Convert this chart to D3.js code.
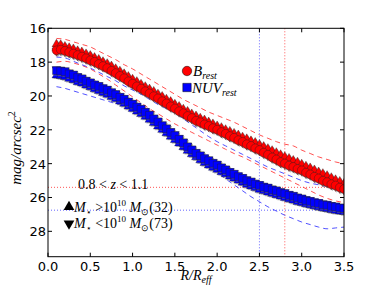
<!DOCTYPE html>
<html>
<head>
<meta charset="utf-8">
<script src="https://cdn.jsdelivr.net/npm/d3@7"></script>
<style>
body { margin: 0; background: #fff; }
text { fill: #000; }
</style>
</head>
<body>
<div id="chart"></div>
<script>
// radius grid, R/R_eff
const radius = [
  0.10, 0.15, 0.20, 0.25, 0.30, 0.35, 0.40, 0.45, 0.50, 0.55,
  0.60, 0.65, 0.70, 0.75, 0.80, 0.85, 0.90, 0.95, 1.00, 1.05,
  1.10, 1.15, 1.20, 1.25, 1.30, 1.35, 1.40, 1.45, 1.50, 1.55,
  1.60, 1.65, 1.70, 1.75, 1.80, 1.85, 1.90, 1.95, 2.00, 2.05,
  2.10, 2.15, 2.20, 2.25, 2.30, 2.35, 2.40, 2.45, 2.50, 2.55,
  2.60, 2.65, 2.70, 2.75, 2.80, 2.85, 2.90, 2.95, 3.00, 3.05,
  3.10, 3.15, 3.20, 3.25, 3.30, 3.35, 3.40, 3.45, 3.50
];
// all galaxies
const bRest = [
  17.30, 17.26, 17.33, 17.41, 17.49, 17.58, 17.67, 17.77, 17.89, 17.98,
  18.11, 18.23, 18.35, 18.51, 18.65, 18.81, 18.95, 19.13, 19.27, 19.43,
  19.56, 19.72, 19.85, 20.01, 20.14, 20.31, 20.44, 20.61, 20.74, 20.90,
  21.02, 21.18, 21.30, 21.46, 21.55, 21.68, 21.77, 21.90, 21.99, 22.13,
  22.23, 22.37, 22.47, 22.61, 22.71, 22.85, 22.95, 23.09, 23.19, 23.35,
  23.47, 23.63, 23.75, 23.90, 23.99, 24.11, 24.19, 24.31, 24.39, 24.53,
  24.63, 24.77, 24.87, 25.01, 25.09, 25.21, 25.29, 25.41, 25.50
];
const nuvRest = [
  18.50, 18.53, 18.57, 18.69, 18.77, 18.91, 18.99, 19.13, 19.23, 19.35,
  19.44, 19.57, 19.66, 19.81, 19.92, 20.08, 20.20, 20.37, 20.49, 20.66,
  20.79, 20.97, 21.14, 21.36, 21.54, 21.76, 21.94, 22.16, 22.34, 22.56,
  22.77, 23.01, 23.19, 23.39, 23.54, 23.71, 23.83, 23.98, 24.09, 24.25,
  24.37, 24.52, 24.63, 24.77, 24.87, 25.01, 25.09, 25.21, 25.29, 25.39,
  25.45, 25.55, 25.61, 25.71, 25.77, 25.87, 25.93, 26.03, 26.09, 26.18,
  26.23, 26.31, 26.35, 26.43, 26.46, 26.53, 26.56, 26.62, 26.65
];
// M* > 1e10 (up triangles)
const bHigh = [
  16.95, 16.98, 17.08, 17.16, 17.23, 17.34, 17.41, 17.52, 17.62, 17.74,
  17.85, 17.98, 18.10, 18.24, 18.40, 18.54, 18.70, 18.86, 19.02, 19.16,
  19.32, 19.46, 19.60, 19.74, 19.90, 20.04, 20.20, 20.34, 20.50, 20.63,
  20.79, 20.92, 21.07, 21.19, 21.32, 21.43, 21.55, 21.66, 21.78, 21.88,
  22.00, 22.10, 22.22, 22.32, 22.44, 22.54, 22.66, 22.76, 22.88, 23.00,
  23.12, 23.24, 23.36, 23.48, 23.60, 23.70, 23.82, 23.92, 24.04, 24.16,
  24.26, 24.38, 24.50, 24.60, 24.72, 24.84, 24.96, 25.06, 25.18
];
const nuvHigh = [
  18.78, 18.82, 18.88, 18.98, 19.06, 19.18, 19.26, 19.38, 19.48, 19.60,
  19.70, 19.82, 19.92, 20.06, 20.18, 20.32, 20.46, 20.62, 20.76, 20.92,
  21.06, 21.22, 21.40, 21.60, 21.80, 22.00, 22.20, 22.40, 22.60, 22.80,
  23.02, 23.24, 23.44, 23.62, 23.80, 23.96, 24.10, 24.24, 24.36, 24.50,
  24.62, 24.76, 24.88, 25.00, 25.12, 25.24, 25.34, 25.44, 25.54, 25.62,
  25.70, 25.78, 25.86, 25.94, 26.02, 26.10, 26.18, 26.26, 26.32, 26.40,
  26.46, 26.52, 26.58, 26.64, 26.68, 26.74, 26.78, 26.82, 26.86
];
// M* < 1e10 (down triangles)
const bLow = [
  17.35, 17.31, 17.38, 17.46, 17.54, 17.63, 17.72, 17.82, 17.94, 18.03,
  18.16, 18.28, 18.40, 18.56, 18.70, 18.86, 19.00, 19.18, 19.32, 19.48,
  19.61, 19.77, 19.90, 20.06, 20.19, 20.36, 20.49, 20.66, 20.79, 20.95,
  21.07, 21.23, 21.35, 21.51, 21.60, 21.73, 21.82, 21.95, 22.04, 22.18,
  22.28, 22.42, 22.52, 22.66, 22.76, 22.90, 23.00, 23.14, 23.24, 23.40,
  23.52, 23.68, 23.80, 23.95, 24.04, 24.16, 24.24, 24.36, 24.44, 24.58,
  24.68, 24.82, 24.92, 25.06, 25.14, 25.26, 25.34, 25.46, 25.55
];
const nuvLow = [
  18.42, 18.45, 18.49, 18.61, 18.69, 18.83, 18.91, 19.05, 19.15, 19.27,
  19.36, 19.49, 19.58, 19.73, 19.84, 20.00, 20.12, 20.29, 20.41, 20.58,
  20.71, 20.89, 21.06, 21.28, 21.46, 21.68, 21.86, 22.08, 22.26, 22.48,
  22.69, 22.93, 23.11, 23.31, 23.46, 23.63, 23.75, 23.90, 24.01, 24.17,
  24.29, 24.44, 24.55, 24.69, 24.79, 24.93, 25.01, 25.13, 25.21, 25.31,
  25.37, 25.47, 25.53, 25.63, 25.69, 25.79, 25.85, 25.95, 26.01, 26.10,
  26.15, 26.23, 26.27, 26.35, 26.38, 26.45, 26.48, 26.54, 26.57
];

// dispersion envelopes (dashed)
const envRadius = [
  0.1, 0.2, 0.3, 0.4, 0.5, 0.6, 0.7, 0.8, 0.9, 1.0,
  1.1, 1.2, 1.3, 1.4, 1.5, 1.6, 1.7, 1.8, 1.9, 2.0,
  2.1, 2.2, 2.3, 2.4, 2.5, 2.6, 2.7, 2.8, 2.9, 3.0,
  3.1, 3.2, 3.3, 3.4, 3.5
];
const bUpper = [
  16.60, 16.65, 16.80, 16.95, 17.10, 17.35, 17.60, 17.85, 18.15, 18.40,
  18.70, 19.00, 19.30, 19.60, 19.90, 20.20, 20.45, 20.70, 20.95, 21.15,
  21.35, 21.55, 21.80, 22.05, 22.30, 22.50, 22.70, 22.85, 22.95, 23.20,
  23.40, 23.60, 23.75, 23.90, 24.00
];
const bLower = [
  18.00, 17.95, 18.05, 18.20, 18.40, 18.70, 19.00, 19.35, 19.70, 20.05,
  20.40, 20.75, 21.05, 21.35, 21.65, 21.90, 22.15, 22.40, 22.65, 22.90,
  23.15, 23.40, 23.60, 23.85, 24.10, 24.35, 24.60, 24.85, 25.10, 25.35,
  25.60, 25.85, 26.05, 26.20, 26.30
];
const nuvUpper = [
  17.70, 17.75, 17.95, 18.15, 18.35, 18.60, 18.85, 19.10, 19.40, 19.65,
  19.90, 20.20, 20.50, 20.75, 21.00, 21.35, 21.70, 22.05, 22.40, 22.70,
  22.95, 23.20, 23.45, 23.70, 23.95, 24.20, 24.40, 24.60, 24.80, 25.00,
  25.15, 25.25, 25.35, 25.40, 25.45
];
const nuvLower = [
  19.45, 19.55, 19.70, 19.85, 20.00, 20.15, 20.30, 20.45, 20.60, 20.80,
  21.05, 21.40, 21.80, 22.20, 22.60, 22.95, 23.30, 23.70, 24.10, 24.50,
  24.90, 25.25, 25.60, 25.95, 26.25, 26.55, 26.80, 27.05, 27.25, 27.45,
  27.60, 27.75, 27.85, 27.80, 27.75
];

// reference lines
const vLines = [{ v: 2.5, c: "#6666ff" }, { v: 2.8, c: "#ff5555" }];
const hLines = [{ v: 25.4, c: "#ff5555" }, { v: 26.75, c: "#6666ff" }];

const xTicks = [0.0, 0.5, 1.0, 1.5, 2.0, 2.5, 3.0, 3.5];
const yTicks = [16, 18, 20, 22, 24, 26, 28];

const W = 382, H = 286;
const pLeft = 48, pRight = 344, pTop = 28.3, pBottom = 256.7;

const svg = d3.select("#chart").append("svg")
    .attr("width", W)
    .attr("height", H);

const x = d3.scaleLinear().domain([0, 3.5]).range([pLeft, pRight]);
const y = d3.scaleLinear().domain([16, 29.5]).range([pTop, pBottom]);

svg.append("clipPath").attr("id", "clip")
    .append("rect")
    .attr("x", pLeft).attr("y", pTop)
    .attr("width", pRight - pLeft).attr("height", pBottom - pTop);

const plot = svg.append("g").attr("clip-path", "url(#clip)");

// dotted reference lines
vLines.forEach(l => {
    plot.append("line")
        .attr("x1", x(l.v)).attr("x2", x(l.v))
        .attr("y1", pTop).attr("y2", pBottom)
        .attr("stroke", l.c).attr("stroke-width", 1)
        .attr("stroke-dasharray", "1,2");
});
hLines.forEach(l => {
    plot.append("line")
        .attr("x1", pLeft).attr("x2", pRight)
        .attr("y1", y(l.v)).attr("y2", y(l.v))
        .attr("stroke", l.c).attr("stroke-width", 1)
        .attr("stroke-dasharray", "1,2");
});

// dashed envelopes
const line = d3.line().x(d => x(d[0])).y(d => y(d[1])).curve(d3.curveMonotoneX);
[[bUpper, "#ff3333"], [bLower, "#ff3333"], [nuvUpper, "#3333ff"], [nuvLower, "#3333ff"]]
    .forEach(([vals, col]) => {
        plot.append("path")
            .datum(d3.zip(envRadius, vals))
            .attr("d", line)
            .attr("fill", "none")
            .attr("stroke", col)
            .attr("stroke-opacity", 0.85)
            .attr("stroke-width", 1)
            .attr("stroke-dasharray", "5,4");
    });

function drawSeries(vals, shape, fill, size, rot) {
    const sym = d3.symbol().type(shape).size(size);
    const pts = d3.zip(radius, vals);
    const g = plot.append("g");
    // soft shadow under the markers
    g.selectAll("path.sh")
        .data(pts)
        .enter().append("path")
        .attr("class", "sh")
        .attr("d", sym)
        .attr("transform", d => `translate(${x(d[0]) + 1.2},${y(d[1]) + 1.2}) rotate(${rot})`)
        .attr("fill", "#777")
        .attr("fill-opacity", 0.5);
    g.selectAll("path.mk")
        .data(pts)
        .enter().append("path")
        .attr("class", "mk")
        .attr("d", sym)
        .attr("transform", d => `translate(${x(d[0])},${y(d[1])}) rotate(${rot})`)
        .attr("fill", fill)
        .attr("stroke", "#222")
        .attr("stroke-width", 0.4);
}

drawSeries(bLow, d3.symbolTriangle, "#ff0000", 34, 180);
drawSeries(bHigh, d3.symbolTriangle, "#ff0000", 34, 0);
drawSeries(nuvLow, d3.symbolTriangle, "#0000ff", 34, 180);
drawSeries(nuvHigh, d3.symbolTriangle, "#0000ff", 34, 0);
drawSeries(bRest, d3.symbolCircle, "#ff0000", 60, 0);
drawSeries(nuvRest, d3.symbolSquare, "#0000ff", 60, 0);

// frame and ticks
svg.append("rect")
    .attr("x", pLeft).attr("y", pTop)
    .attr("width", pRight - pLeft).attr("height", pBottom - pTop)
    .attr("fill", "none").attr("stroke", "#000").attr("stroke-width", 1);

const tl = 4;
xTicks.forEach(t => {
    svg.append("line").attr("x1", x(t)).attr("x2", x(t)).attr("y1", pBottom).attr("y2", pBottom - tl).attr("stroke", "#000");
    svg.append("line").attr("x1", x(t)).attr("x2", x(t)).attr("y1", pTop).attr("y2", pTop + tl).attr("stroke", "#000");
    svg.append("text")
        .attr("x", x(t)).attr("y", 271)
        .attr("text-anchor", "middle")
        .attr("font-family", "DejaVu Sans")
        .attr("font-size", 13)
        .text(t.toFixed(1));
});
yTicks.forEach(t => {
    svg.append("line").attr("x1", pLeft).attr("x2", pLeft + tl).attr("y1", y(t)).attr("y2", y(t)).attr("stroke", "#000");
    svg.append("line").attr("x1", pRight).attr("x2", pRight - tl).attr("y1", y(t)).attr("y2", y(t)).attr("stroke", "#000");
    svg.append("text")
        .attr("x", 46).attr("y", y(t) + 5)
        .attr("text-anchor", "end")
        .attr("font-family", "DejaVu Sans")
        .attr("font-size", 13)
        .text(t);
});

const serif = "'Liberation Serif', serif";

// axis labels
const yl = svg.append("text")
    .attr("transform", "translate(21,148) rotate(-90)")
    .attr("text-anchor", "middle")
    .attr("font-family", serif)
    .attr("font-style", "italic")
    .attr("font-size", 15);
yl.append("tspan").text("mag/arcsec");
yl.append("tspan").attr("dy", -6).attr("font-size", 10).attr("font-style", "normal").text("2");

const xl = svg.append("text")
    .attr("x", 196).attr("y", 280)
    .attr("text-anchor", "middle")
    .attr("font-family", serif)
    .attr("font-style", "italic")
    .attr("font-size", 14);
xl.append("tspan").text("R/R");
xl.append("tspan").attr("dy", 2.5).attr("font-size", 10).text("eff");

// legend
svg.append("path")
    .attr("d", d3.symbol().type(d3.symbolCircle).size(70))
    .attr("transform", "translate(187,71)")
    .attr("fill", "#ff0000").attr("stroke", "#000").attr("stroke-width", 0.5);
svg.append("path")
    .attr("d", d3.symbol().type(d3.symbolSquare).size(70))
    .attr("transform", "translate(187,87.5)")
    .attr("fill", "#0000ff").attr("stroke", "#000").attr("stroke-width", 0.5);
const lb = svg.append("text").attr("x", 193).attr("y", 76)
    .attr("font-family", serif).attr("font-style", "italic").attr("font-size", 15);
lb.append("tspan").text("B");
lb.append("tspan").attr("dy", 3).attr("font-size", 10).text("rest");
const ln = svg.append("text").attr("x", 192).attr("y", 92.5)
    .attr("font-family", serif).attr("font-style", "italic").attr("font-size", 15);
ln.append("tspan").text("NUV");
ln.append("tspan").attr("dy", 3).attr("font-size", 10).text("rest");

// annotations
const zt = svg.append("text").attr("x", 78).attr("y", 189)
    .attr("font-family", serif).attr("font-size", 14);
zt.append("tspan").text("0.8 < ");
zt.append("tspan").attr("font-style", "italic").text("z");
zt.append("tspan").text(" < 1.1");

function massLabel(yy, up, sign, n) {
    svg.append("path")
        .attr("d", d3.symbol().type(d3.symbolTriangle).size(50))
        .attr("transform", `translate(69,${yy - 4.5}) rotate(${up ? 0 : 180})`)
        .attr("fill", "#000");
    const t = svg.append("text").attr("x", 74).attr("y", yy)
        .attr("font-family", serif).attr("font-size", 14);
    t.append("tspan").attr("font-style", "italic").text("M");
    t.append("tspan").attr("dy", 3).attr("font-size", 9).text("\u22c6");
    t.append("tspan").attr("dy", -3).text(" " + sign + "10");
    t.append("tspan").attr("dy", -6).attr("font-size", 9).text("10");
    t.append("tspan").attr("dy", 6).attr("font-style", "italic").text(" M");
    t.append("tspan").attr("dy", 3).attr("font-size", 9).text("\u2299");
    t.append("tspan").attr("dy", -3).text("(" + n + ")");
}
massLabel(211.5, true, ">", 32);
massLabel(228, false, "<", 73);
</script>
</body>
</html>
